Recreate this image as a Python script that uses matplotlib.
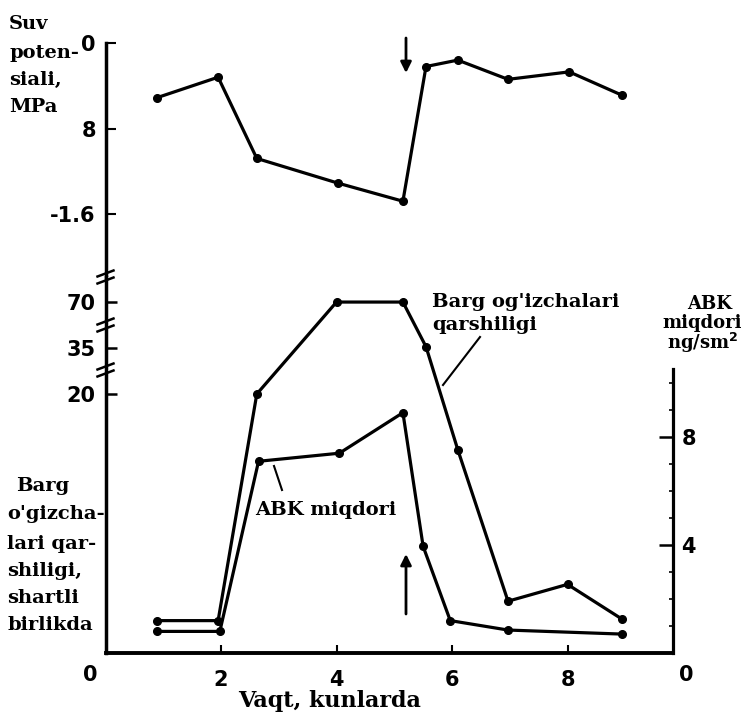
import numpy as np
import matplotlib
matplotlib.use("Agg")
import matplotlib.pyplot as plt
from matplotlib.lines import Line2D

W, H = 744, 713

# ---- ma'lumotlar (rasmdan o'qilgan) ----
# yuqori grafik: suv potensiali, MPa
days_wp = [0.9, 1.95, 2.62, 4.02, 5.15, 5.55, 6.1, 6.97, 8.03, 8.95]
water_pot = [-0.51, -0.32, -1.08, -1.31, -1.48, -0.22, -0.16, -0.34, -0.27, -0.49]

# pastki grafik: barg og'izchalari qarshiligi (shartli birlik)
days_res = [0.9, 1.95, 2.62, 4.0, 5.15, 5.55, 6.1, 6.97, 8.0, 8.95]
resistance = [2.5, 2.5, 20, 70, 70, 36, 15.7, 4.0, 5.3, 2.6]

# pastki grafik: ABK miqdori, ng/sm2
days_abk = [0.9, 1.98, 2.65, 4.05, 5.15, 5.5, 5.97, 6.97, 8.95]
abk = [0.8, 0.8, 7.1, 7.4, 8.9, 3.95, 1.2, 0.85, 0.7]

wp_ticks = [0, -0.8, -1.6]
wp_labels = ["0", "8", "-1.6"]
res_ticks = [20, 35, 70]
abk_ticks = [4, 8]
x_ticks = [2, 4, 6, 8]

# uzilgan o'q: 0-20 chiziqli, keyin siqilgan
res_knots = [0, 20, 35, 70, 140]
pos_knots = [0, 20, 23.55, 27.1, 34.2]


def fwd(v):
    return np.interp(v, res_knots, pos_knots)


def inv(p):
    return np.interp(p, pos_knots, res_knots)


def fp(x, y):
    # piksel -> figura ulushi
    return x / W, 1 - y / H


SERIF = "DejaVu Serif"
SANS = "DejaVu Sans"
LW = 2.3
MS = 5.5

fig = plt.figure(figsize=(W / 100, H / 100), dpi=100)

left, right = 105.5, 673
y_top, y_mid, y_bot = 43, 277, 653
xmax = (right - left) / 57.75

ax_top = fig.add_axes([left / W, 1 - y_mid / H, (right - left) / W, (y_mid - y_top) / H])
ax = fig.add_axes([left / W, 1 - y_bot / H, (right - left) / W, (y_bot - y_mid) / H])
ax2 = ax.twinx()

# --- yuqori grafik ---
ax_top.plot(days_wp, water_pot, color="black", lw=LW, marker="o", ms=MS)
ax_top.set_xlim(0, xmax)
ax_top.set_ylim(-(y_mid - y_top) / 106.9, 0)
for s in ["top", "right", "bottom"]:
    ax_top.spines[s].set_visible(False)
ax_top.spines["left"].set_linewidth(2.5)
ax_top.set_xticks([])
ax_top.set_yticks(wp_ticks)
ax_top.set_yticklabels(wp_labels, fontsize=15, fontweight="bold", family=SANS)
ax_top.tick_params(axis="y", direction="in", length=7, width=1.5, pad=7)
ax_top.patch.set_visible(False)

# --- pastki grafik ---
ax.plot(days_res, resistance, color="black", lw=LW, marker="o", ms=MS)
ax.set_yscale("function", functions=(fwd, inv))
ax.set_xlim(0, xmax)
ax.set_ylim(0, inv((y_bot - y_mid) / 12.95))
ax.spines["top"].set_visible(False)
ax.spines["right"].set_visible(False)
ax.spines["left"].set_linewidth(2.5)
ax.spines["bottom"].set_linewidth(2.8)
ax.set_yticks(res_ticks)
ax.set_yticklabels([str(t) for t in res_ticks], fontsize=15, fontweight="bold", family=SANS)
ax.yaxis.set_minor_locator(matplotlib.ticker.NullLocator())
ax.tick_params(axis="y", direction="in", length=8, width=1.8, pad=7)
ax.set_xticks(x_ticks)
ax.set_xticklabels([str(t) for t in x_ticks], fontsize=15, fontweight="bold", family=SANS)
ax.tick_params(axis="x", direction="in", length=6, width=1.5, pad=12)

ax2.plot(days_abk, abk, color="black", lw=LW, marker="o", ms=MS)
ax2.set_ylim(0, (y_bot - y_mid) / 27.0)
for s in ["top", "left", "bottom"]:
    ax2.spines[s].set_visible(False)
ax2.spines["right"].set_bounds(0, 10.5)
ax2.spines["right"].set_linewidth(2.3)
ax2.set_yticks(abk_ticks)
ax2.set_yticklabels([str(t) for t in abk_ticks], fontsize=15, fontweight="bold", family=SANS)
ax2.set_yticks(range(1, 11), minor=True)
ax2.tick_params(axis="y", which="major", direction="in", length=10, width=1.8, pad=6)
ax2.tick_params(axis="y", which="minor", direction="in", length=3, width=1.2)

# "0" yorliqlari
for x in [90, 686]:
    fig.text(*fp(x, 675), "0", fontsize=15, fontweight="bold", family=SANS,
             ha="center", va="center")

# o'q uzilish belgilari
for yb in [y_mid, 325, 370]:
    for dy in [-3.5, 3.5]:
        x0, y0 = fp(left - 8, yb + dy + 3)
        x1, y1 = fp(left + 8, yb + dy - 3)
        fig.add_artist(Line2D([x0, x1], [y0, y1], color="black", lw=1.8))

# matnlar
txt = dict(fontsize=14, fontweight="bold", family=SERIF, va="center")
for s, y in zip(["Suv", "poten-", "siali,", "MPa"], [24, 53, 80, 107]):
    fig.text(*fp(9, y), s, ha="left", **txt)

fig.text(*fp(43, 486), "Barg", ha="center", **txt)
for s, y in zip(["o'gizcha-", "lari qar-", "shiligi,", "shartli", "birlikda"],
                [514, 544, 571, 598, 625]):
    fig.text(*fp(7, y), s, ha="left", **txt)

fig.text(*fp(330, 701), "Vaqt, kunlarda", ha="center",
         **{**txt, "fontsize": 16})

rt = {**txt, "fontsize": 13}
fig.text(*fp(710, 304), "ABK", ha="center", **rt)
fig.text(*fp(702, 323), "miqdori", ha="center", **rt)
fig.text(*fp(703, 343), "ng/sm$^\\mathbf{2}$", ha="center", **rt)

fig.text(*fp(432, 302), "Barg og'izchalari", ha="left", **txt)
fig.text(*fp(432, 325), "qarshiligi", ha="left", **txt)
fig.add_artist(Line2D(*zip(fp(480, 337), fp(443, 385)), color="black", lw=1.5))

fig.text(*fp(326, 510), "ABK miqdori", ha="center", **txt)
fig.add_artist(Line2D(*zip(fp(274, 466), fp(282, 490)), color="black", lw=1.5))

# strelkalar
arrow = dict(arrowstyle="-|>", color="black", lw=2, mutation_scale=16, shrinkA=0, shrinkB=0)
fig.add_artist(matplotlib.patches.FancyArrowPatch(fp(406, 38), fp(406, 73), transform=fig.transFigure, **arrow))
fig.add_artist(matplotlib.patches.FancyArrowPatch(fp(406, 614), fp(406, 554), transform=fig.transFigure, **arrow))

fig.savefig("out.png", dpi=100)
